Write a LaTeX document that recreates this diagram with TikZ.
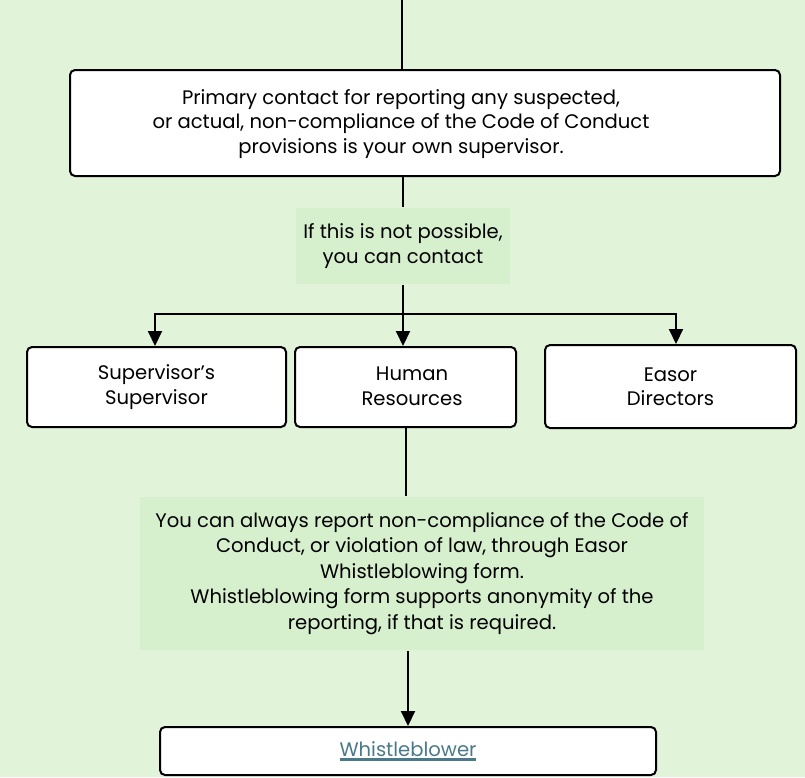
\documentclass[tikz,border=0pt]{standalone}
\usepackage{fontspec}
\setmainfont{Poppins}
\usetikzlibrary{arrows.meta}
\definecolor{bgcol}{RGB}{225,243,217}
\definecolor{notecol}{RGB}{214,240,205}
\definecolor{linkcol}{RGB}{74,122,138}
\newcommand{\ulink}[1]{\setbox0\hbox{#1}\rlap{\copy0}\rule[-4.5pt]{\wd0}{2.6pt}}

\begin{document}
\begin{tikzpicture}[x=1pt, y=-1pt, line width=2pt,
  box/.style={draw, fill=white, rounded corners=5pt, align=center, inner sep=0pt,
    font=\fontsize{19.6}{24.5}\selectfont},
  boxtext/.style={align=center, inner sep=0pt, font=\fontsize{19.6}{24.5}\selectfont},
  note/.style={fill=notecol, align=center, inner sep=0pt,
    font=\fontsize{19.6}{25.5}\selectfont},
  arr/.style={-{Triangle[width=14pt,length=15pt]}}]
\fill [bgcol] (0, 0) rectangle (805, 777);
\useasboundingbox (0, 0) rectangle (805, 777);
\coordinate (top) at (402, 0);
\node [box, minimum width=710pt, minimum height=106pt] (prim) at (425, 123) {};
\node [boxtext] (primtext) at (401, 124)
  {Primary contact for reporting any suspected,\\ or actual, non-compliance of the Code of Conduct\\ provisions is your own supervisor.};
\node [note, minimum width=214pt, minimum height=76pt] (ifnot) at (403, 246)
  {If this is not possible,\\ you can contact};
\coordinate (split) at (403, 314);
\node [box, minimum width=259pt, minimum height=80pt] (sup) at (156.5, 387) {Supervisor’s\\ Supervisor};
\node [box, minimum width=221pt, minimum height=80pt] (hr) at (405.5, 387) {};
\node [boxtext] (hrtext) at (412, 386) {Human\\ Resources};
\node [box, minimum width=251pt, minimum height=83pt] (dir) at (670.5, 386.5) {Easor\\ Directors};
\node [note, minimum width=564pt, minimum height=153pt] (always) at (422, 573.5)
  {You can always report non-compliance of the Code of\\ Conduct, or violation of law, through Easor\\ Whistleblowing form.\\ Whistleblowing form supports anonymity of the\\ reporting, if that is required.};
\node [box, minimum width=496pt, minimum height=48pt] (wb) at (408, 751)
  {\textcolor{linkcol}{\ulink{Whistleblower}}};
\draw (top) -- (top |- prim.north);
\draw (prim.south -| ifnot) -- (ifnot);
\draw [arr] (ifnot) -- (ifnot |- hr.north);
\draw [arr] (split) -| ([xshift=-1.5pt]sup.north);
\draw [arr] (split) -| ([xshift=5.5pt]dir.north);
\draw (hr) -- (hr |- always.north);
\draw [arr] (always.south -| wb) -- (wb);
\end{tikzpicture}
\end{document}
